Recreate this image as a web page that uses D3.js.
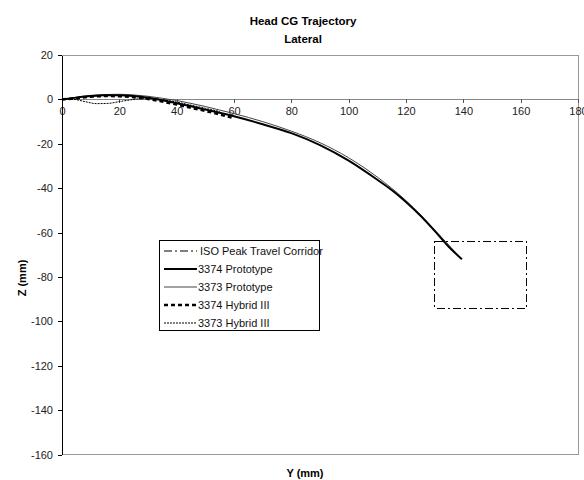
<!DOCTYPE html>
<html>
<head>
<meta charset="utf-8">
<script src="https://cdn.jsdelivr.net/npm/d3@7"></script>
<style>
  html, body { margin: 0; padding: 0; background: #fff; }
  svg { display: block; font-family: Arial, "Liberation Sans", sans-serif; }
</style>
</head>
<body>
<svg id="chart" width="584" height="480"></svg>
<script>
// Axis ticks
const yTickValues = [0, 20, 40, 60, 80, 100, 120, 140, 160, 180];
const zTickValues = [20, 0, -20, -40, -60, -80, -100, -120, -140, -160];

// Head CG trajectories: lateral position Y (mm) and vertical position Z (mm)
const proto3374Y = [0, 5, 10, 15, 20, 25, 30, 35, 40, 45, 50, 55, 60, 70, 80, 90, 100, 110, 115, 120, 125, 130, 135, 139.5];
const proto3374Z = [0, 0.8, 1.5, 1.9, 1.9, 1.5, 0.7, -0.4, -1.7, -3.1, -4.6, -6.0, -7.6, -11.2, -15.2, -20.6, -27.6, -36.2, -40.8, -46.2, -52.3, -59.2, -66.5, -72];

const proto3373Y = [0, 5, 10, 15, 20, 25, 30, 35, 40, 45, 50, 55, 60, 70, 80, 90, 100, 110, 120, 130, 138];
const proto3373Z = [0, 1.0, 1.8, 2.2, 2.3, 2.0, 1.4, 0.5, -0.5, -1.8, -3.2, -4.8, -6.4, -10.0, -14.3, -19.5, -26.3, -35.0, -45.6, -58.8, -70];

const hybrid3374Y = [0, 5, 10, 15, 20, 25, 30, 35, 40, 45, 50, 55, 60];
const hybrid3374Z = [0, 0.5, 1.2, 1.5, 1.4, 1.0, 0.2, -1.0, -2.3, -3.8, -5.2, -6.8, -8.5];

const hybrid3373Y = [0, 4, 8, 12, 16, 20, 24, 28, 32, 36, 40, 45, 50, 55];
const hybrid3373Z = [0, 0, -1.0, -1.9, -1.8, -1.0, -0.2, 0.3, 0.3, -0.3, -1.2, -2.6, -4.0, -5.5];

// ISO peak travel corridor bounds
const corridorY = [130, 162];
const corridorZ = [-64, -94];

const seriesNames = ["ISO Peak Travel Corridor", "3374 Prototype", "3373 Prototype", "3374 Hybrid III", "3373 Hybrid III"];

const svg = d3.select("#chart");

const x = d3.scaleLinear().domain([0, 180]).range([62, 578]);
const y = d3.scaleLinear().domain([-160, 20]).range([454.6, 55]);

// Plot frame
svg.append("rect")
  .attr("x", x(0)).attr("y", y(20))
  .attr("width", x(180) - x(0)).attr("height", y(-160) - y(20))
  .attr("fill", "none").attr("stroke", "#999").attr("stroke-width", 1)
  .attr("shape-rendering", "crispEdges");

// Titles
svg.append("text").attr("x", 303).attr("y", 25)
  .attr("text-anchor", "middle").attr("font-weight", "bold").attr("font-size", 11.5)
  .text("Head CG Trajectory");
svg.append("text").attr("x", 303).attr("y", 43)
  .attr("text-anchor", "middle").attr("font-weight", "bold").attr("font-size", 11.5)
  .text("Lateral");

// Axis titles
svg.append("text").attr("x", 305).attr("y", 477)
  .attr("text-anchor", "middle").attr("font-weight", "bold").attr("font-size", 11)
  .text("Y (mm)");
svg.append("text")
  .attr("transform", "translate(26,278) rotate(-90)")
  .attr("text-anchor", "middle").attr("font-weight", "bold").attr("font-size", 11)
  .text("Z (mm)");

const plain = d => String(d);

// Horizontal axis through Z = 0
const xAxis = svg.append("g")
  .attr("transform", `translate(0,${y(0)})`)
  .call(d3.axisBottom(x).tickValues(yTickValues).tickFormat(plain).tickSize(4).tickPadding(4).tickSizeOuter(0));
xAxis.select(".domain").attr("stroke", "#888").attr("shape-rendering", "crispEdges");
xAxis.selectAll(".tick line").attr("stroke", "#555").attr("shape-rendering", "crispEdges");
xAxis.selectAll("text").attr("font-size", 11).attr("font-family", "Arial, 'Liberation Sans', sans-serif").attr("fill", "#222");

const yAxis = svg.append("g")
  .attr("transform", `translate(${x(0)},0)`)
  .call(d3.axisLeft(y).tickValues(zTickValues).tickFormat(plain).tickSize(4).tickPadding(5).tickSizeOuter(0));
yAxis.select(".domain").attr("stroke", "#000").attr("shape-rendering", "crispEdges");
yAxis.selectAll(".tick line").attr("stroke", "#000").attr("shape-rendering", "crispEdges");
yAxis.selectAll("text").attr("font-size", 11).attr("font-family", "Arial, 'Liberation Sans', sans-serif").attr("fill", "#222");

// Corridor box
svg.append("rect")
  .attr("x", x(corridorY[0])).attr("y", y(corridorZ[0]))
  .attr("width", x(corridorY[1]) - x(corridorY[0]))
  .attr("height", y(corridorZ[1]) - y(corridorZ[0]))
  .attr("fill", "none").attr("stroke", "#000").attr("stroke-width", 1)
  .attr("stroke-dasharray", "8,3,2,3")
  .attr("shape-rendering", "crispEdges");

const line = d3.line().x(d => x(d[0])).y(d => y(d[1])).curve(d3.curveMonotoneX);
const zip = (a, b) => a.map((v, i) => [v, b[i]]);

const styles = [
  { name: seriesNames[0], stroke: "#000", width: 1, dash: "8,3,2,3" },
  { name: seriesNames[1], stroke: "#000", width: 2, dash: null, ys: proto3374Y, zs: proto3374Z },
  { name: seriesNames[2], stroke: "#444", width: 1, dash: null, ys: proto3373Y, zs: proto3373Z },
  { name: seriesNames[3], stroke: "#000", width: 2.5, dash: "4,3", ys: hybrid3374Y, zs: hybrid3374Z },
  { name: seriesNames[4], stroke: "#000", width: 1, dash: "2,1", ys: hybrid3373Y, zs: hybrid3373Z }
];

// Draw trajectories (thin lines first so the thick ones sit on top)
[2, 4, 3, 1].forEach(i => {
  const s = styles[i];
  svg.append("path")
    .attr("d", line(zip(s.ys, s.zs)))
    .attr("fill", "none")
    .attr("stroke", s.stroke)
    .attr("stroke-width", s.width)
    .attr("stroke-dasharray", s.dash);
});

// Legend
const legend = svg.append("g").attr("transform", "translate(159,240)");
legend.append("rect").attr("x", 0.5).attr("y", 0.5).attr("width", 160).attr("height", 90)
  .attr("fill", "#fff").attr("stroke", "#000").attr("shape-rendering", "crispEdges");
styles.forEach((s, i) => {
  const cy = 11 + i * 18;
  legend.append("line")
    .attr("x1", 5).attr("x2", 38).attr("y1", cy).attr("y2", cy)
    .attr("stroke", s.stroke).attr("stroke-width", s.width)
    .attr("stroke-dasharray", s.dash);
  legend.append("text")
    .attr("x", i === 0 ? 41 : 39).attr("y", cy + 4)
    .attr("font-size", 11).attr("fill", "#111")
    .text(s.name);
});
</script>
</body>
</html>
